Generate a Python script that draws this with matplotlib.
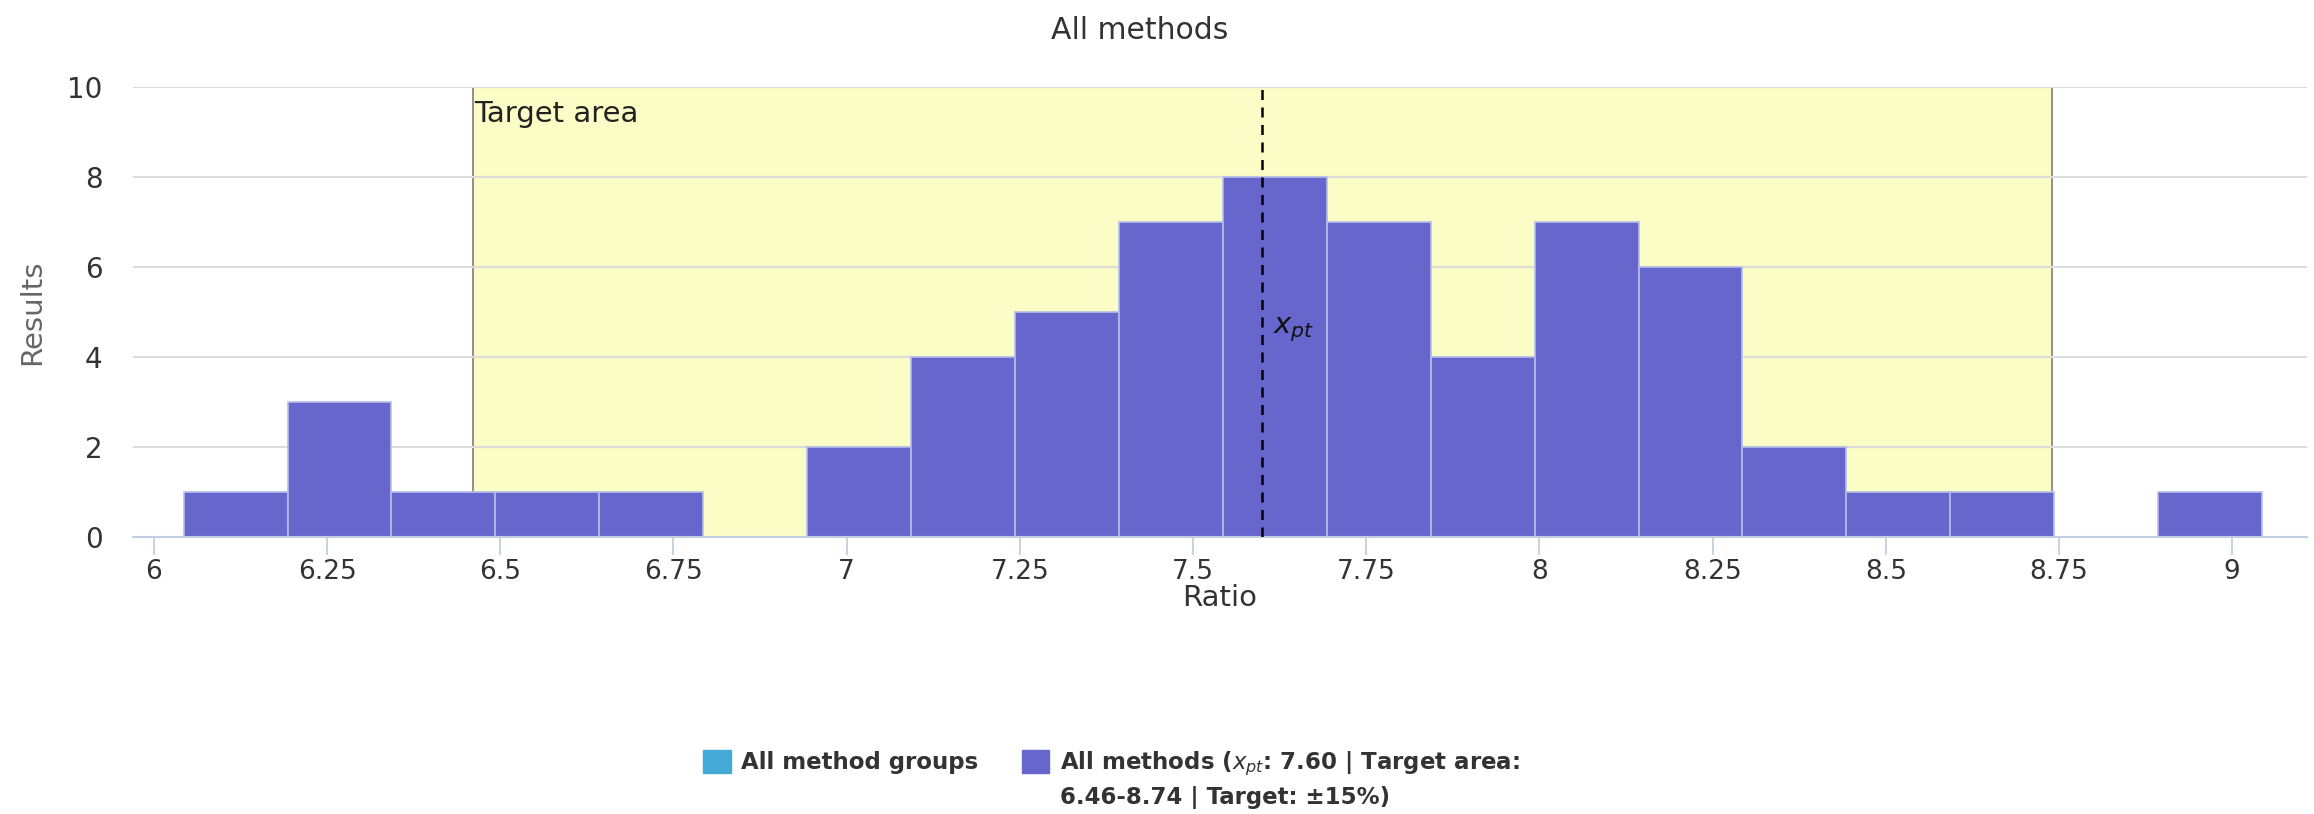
import matplotlib.pyplot as plt
import numpy as np

# histogram data
bin_edges = [6.043, 6.193, 6.343, 6.493, 6.643, 6.793, 6.943, 7.093, 7.243, 7.393, 7.543,
             7.693, 7.843, 7.993, 8.143, 8.293, 8.443, 8.593, 8.743, 8.893, 9.043]
counts = [1, 3, 1, 1, 1, 0, 2, 4, 5, 7, 8, 7, 4, 7, 6, 2, 1, 1, 0, 1]
x_pt = 7.60
target_lo, target_hi = 6.46, 8.74
x_ticks = [6, 6.25, 6.5, 6.75, 7, 7.25, 7.5, 7.75, 8, 8.25, 8.5, 8.75, 9]
x_tick_labels = ['6', '6.25', '6.5', '6.75', '7', '7.25', '7.5', '7.75', '8', '8.25', '8.5', '8.75', '9']
y_ticks = [0, 2, 4, 6, 8, 10]

plt.rcParams['font.family'] = ['DejaVu Sans']

fig = plt.figure(figsize=(23.14, 8.14), dpi=100)
ax = fig.add_axes([0.0575, 0.340, 0.9395, 0.553])

# target area
ax.axvspan(target_lo, target_hi, color='#fbfcc6', zorder=0.2, lw=0)
ax.axvline(target_lo, color='#888888', lw=1.3, zorder=0.3)
ax.axvline(target_hi, color='#888888', lw=1.3, zorder=0.3)
ax.text(target_lo + 0.003, 9.72, 'Target area', fontsize=21, color='#222222', va='top', ha='left')

edges = np.array(bin_edges)
ax.bar(edges[:-1], counts, width=np.diff(edges), align='edge', color='#6666cc',
       edgecolor='#b4bde8', linewidth=1.2, zorder=2)

# assigned value
ax.axvline(x_pt, ymin=0, ymax=1, color='black', lw=1.8, ls=(0, (4, 3)), zorder=3)
ax.text(x_pt + 0.015, 4.6, '$x_{pt}$', fontsize=21, color='#111111', va='center', ha='left', zorder=4)

ax.set_xlim(5.97, 9.108)
ax.set_ylim(0, 10)
ax.set_xticks(x_ticks)
ax.set_xticklabels(x_tick_labels)
ax.set_yticks(y_ticks)
ax.tick_params(axis='x', direction='out', length=13, width=1.3, color='#c0d0e0',
               labelsize=19, labelcolor='#333333', pad=3)
ax.tick_params(axis='y', length=0, labelsize=20, labelcolor='#333333', pad=22)
ax.grid(axis='y', color='#dcdcdc', lw=1.5)
ax.set_axisbelow(True)
for s in ['top', 'right', 'left']:
    ax.spines[s].set_visible(False)
ax.spines['bottom'].set_color('#c0d0e0')
ax.spines['bottom'].set_linewidth(1.5)

ax.set_xlabel('Ratio', fontsize=21, color='#333333', va='center')
ax.xaxis.set_label_coords(0.5, -0.136)
ax.set_ylabel('Results', fontsize=21, color='#666666', va='center')
ax.yaxis.set_label_coords(-0.0465, 0.5)
fig.text(0.4925, 0.963, 'All methods', fontsize=21.5, color='#333333', ha='center', va='center')

h1 = plt.Rectangle((0, 0), 1, 1, color='#44aad8')
h2 = plt.Rectangle((0, 0), 1, 1, color='#6666cc')
leg = fig.legend([h1, h2],
                 ['All method groups', 'All methods ($x_{pt}$: 7.60 | Target area:'],
                 loc='lower left', bbox_to_anchor=(0.3, 0.033), ncol=2, frameon=False,
                 prop={'size': 16.5, 'weight': 'bold'}, handlelength=1.2, handleheight=1.2,
                 handletextpad=0.45, columnspacing=1.9, borderaxespad=0)
for t in leg.get_texts():
    t.set_color('#333333')

# second line of the wrapped legend label, placed under the first one
fig.canvas.draw()
W, H = fig.bbox.width, fig.bbox.height
bb = leg.get_texts()[1].get_window_extent()
fig.text(bb.x0 / W, (bb.y0 - 8) / H, '6.46-8.74 | Target: ±15%)', fontsize=16.5,
         fontweight='bold', color='#333333', ha='left', va='top')

fig.savefig('out.png', dpi=100)
